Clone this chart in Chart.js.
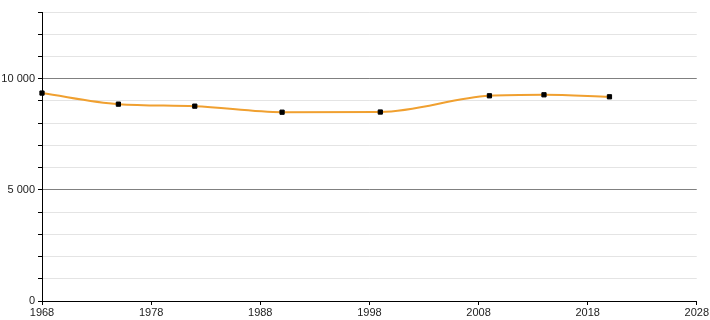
<!DOCTYPE html>
<html>
<head>
<meta charset="utf-8">
<script src="https://cdn.jsdelivr.net/npm/chart.js@4/dist/chart.umd.min.js"></script>
<style>
  html, body { margin: 0; padding: 0; background: #fff; }
  #wrap { width: 710px; height: 320px; }
</style>
</head>
<body>
<div id="wrap"><canvas id="chart" width="710" height="320"></canvas></div>
<script>
// données du graphique
const years = [1968, 1975, 1982, 1990, 1999, 2009, 2014, 2020];
const population = [9353, 8855, 8765, 8493, 8500, 9231, 9276, 9186];
const xTicks = [1968, 1978, 1988, 1998, 2008, 2018, 2028];
const yLabels = [0, 5000, 10000];

function fmt(v) {
  return String(v).replace(/\B(?=(\d{3})+(?!\d))/g, " ");
}

const ctx = document.getElementById("chart").getContext("2d");
new Chart(ctx, {
  type: "line",
  data: {
    datasets: [{
      data: years.map((y, i) => ({ x: y, y: population[i] })),
      borderColor: "#f0a030",
      borderWidth: 2,
      cubicInterpolationMode: "monotone",
      pointStyle: "rect",
      pointRadius: 3,
      pointBackgroundColor: "#000",
      pointBorderColor: "#000",
      pointBorderWidth: 1,
      fill: false,
      clip: false
    }]
  },
  options: {
    responsive: false,
    animation: false,
    layout: { padding: { top: 12, right: 11, left: 0, bottom: 0 } },
    plugins: { legend: { display: false }, tooltip: { enabled: false } },
    scales: {
      x: {
        type: "linear",
        min: 1968,
        max: 2028,
        afterBuildTicks: axis => { axis.ticks = xTicks.map(v => ({ value: v })); },
        afterFit: axis => { axis.height = 19; },
        ticks: {
          color: "#222",
          font: { family: "Liberation Sans, Arial", size: 11 },
          maxRotation: 0,
          padding: 1,
          callback: v => String(v)
        },
        grid: { drawOnChartArea: false, tickLength: 4, tickColor: "#000" },
        border: { color: "#000", width: 1 }
      },
      y: {
        min: 0,
        max: 13000,
        afterFit: axis => { axis.width = 42; },
        ticks: {
          stepSize: 1000,
          color: "#222",
          font: { family: "Liberation Sans, Arial", size: 11 },
          padding: 3,
          autoSkip: false,
          callback: v => yLabels.includes(v) ? fmt(v) : ""
        },
        grid: {
          tickLength: 4,
          tickColor: "#000",
          color: c => (c.tick && c.tick.value % 5000 === 0) ? "#808080" : "#e4e4e4",
          lineWidth: 1
        },
        border: { color: "#000", width: 1 }
      }
    }
  }
});
</script>
</body>
</html>
